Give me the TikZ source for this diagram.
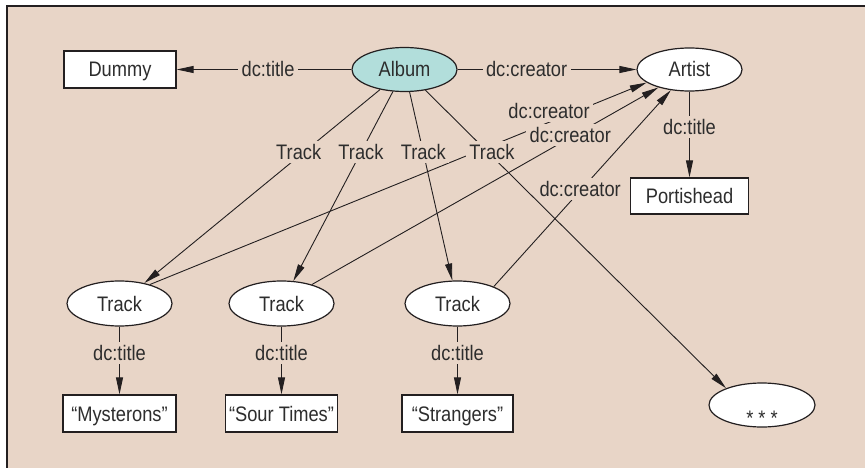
\documentclass[tikz,border=0pt]{standalone}
\usepackage{fontspec}
\setmainfont{Liberation Sans}[FakeStretch=0.87]
\usetikzlibrary{arrows.meta,shapes.geometric}
\definecolor{bg}{RGB}{232,213,199}
\definecolor{albumfill}{RGB}{178,222,219}
\definecolor{ink}{RGB}{35,31,32}
\definecolor{txt}{RGB}{45,45,45}
\begin{document}
\begin{tikzpicture}[x=1pt,y=-1pt,
  every node/.style={font=\fontsize{21}{25}\selectfont, text=txt},
  base/.style={draw=ink, line width=1.2pt, fill=white, inner sep=0pt, text height=15pt, text depth=0pt},
  rectnode/.style={base, rectangle, minimum height=37pt},
  ellnode/.style={base, ellipse, minimum width=105pt, minimum height=44pt},
  lbl/.style={fill=bg, inner sep=3.5pt, text height=15pt, text depth=0pt},
  conn/.style={draw=ink, line width=0.9pt, -{Triangle[length=17pt,width=7pt]}}
]
\useasboundingbox (0,0) rectangle (865,468);
\fill[white] (0,0) rectangle (865,468);
\fill[bg] (7,6) rectangle (865,468);
\draw[ink, line width=1.8pt] (865,6) -- (7,6) -- (7,468);

\node[rectnode, minimum width=112pt] (dummy) at (120,69.5) {Dummy};
\node[ellnode, fill=albumfill] (album) at (404.5,69.5) {Album};
\node[ellnode, minimum height=43pt] (artist) at (689.5,69.5) {Artist};
\node[rectnode, minimum width=118pt, minimum height=36pt] (portishead) at (689.5,196) {Portishead};
\node[ellnode, minimum height=45pt] (t1) at (119.5,303.5) {Track};
\node[ellnode, minimum height=45pt] (t2) at (281.5,303.5) {Track};
\node[ellnode, minimum height=45pt] (t3) at (457.5,303.5) {Track};
\node[rectnode, minimum width=113pt] (b1) at (119.5,413.5) {“Mysterons”};
\node[rectnode, minimum width=112pt] (b2) at (281.5,413.5) {“Sour Times”};
\node[rectnode, minimum width=111pt] (b3) at (457.5,413.5) {“Strangers”};
\node[ellnode, minimum width=106pt] (more) at (762,405) {\raisebox{-13pt}{* * *}};

% creator edges from tracks
\draw[conn] (t1.32) -- node[lbl,pos=0.8035,yshift=11pt]{dc:creator} (artist.197);
\draw[conn] (t2.32) -- node[lbl,pos=0.7457,yshift=3pt]{dc:creator} (artist.210);
\draw[conn] (t3.25) -- node[lbl,pos=0.488,yshift=2pt]{dc:creator} (artist.228);

% album edges
\draw[conn] (album) -- node[lbl,pos=0.477]{dc:title} (dummy);
\draw[conn] (album) -- node[lbl,pos=0.386]{dc:creator} (artist);
\draw[conn] (album) -- node[lbl,pos=0.324,xshift=-5pt]{Track} (t1);
\draw[conn] (album) -- node[lbl,pos=0.321]{Track} (t2);
\draw[conn] (album) -- node[lbl,pos=0.32]{Track} (t3);
\draw[conn] (album) -- node[lbl,pos=0.208,xshift=4pt]{Track} (more.155);

% title edges
\draw[conn] (artist) -- node[lbl,pos=0.414]{dc:title} (portishead);
\draw[conn] (t1) -- node[lbl,pos=0.391]{dc:title} (b1);
\draw[conn] (t2) -- node[lbl,pos=0.391]{dc:title} (b2);
\draw[conn] (t3) -- node[lbl,pos=0.391]{dc:title} (b3);
\end{tikzpicture}
\end{document}
